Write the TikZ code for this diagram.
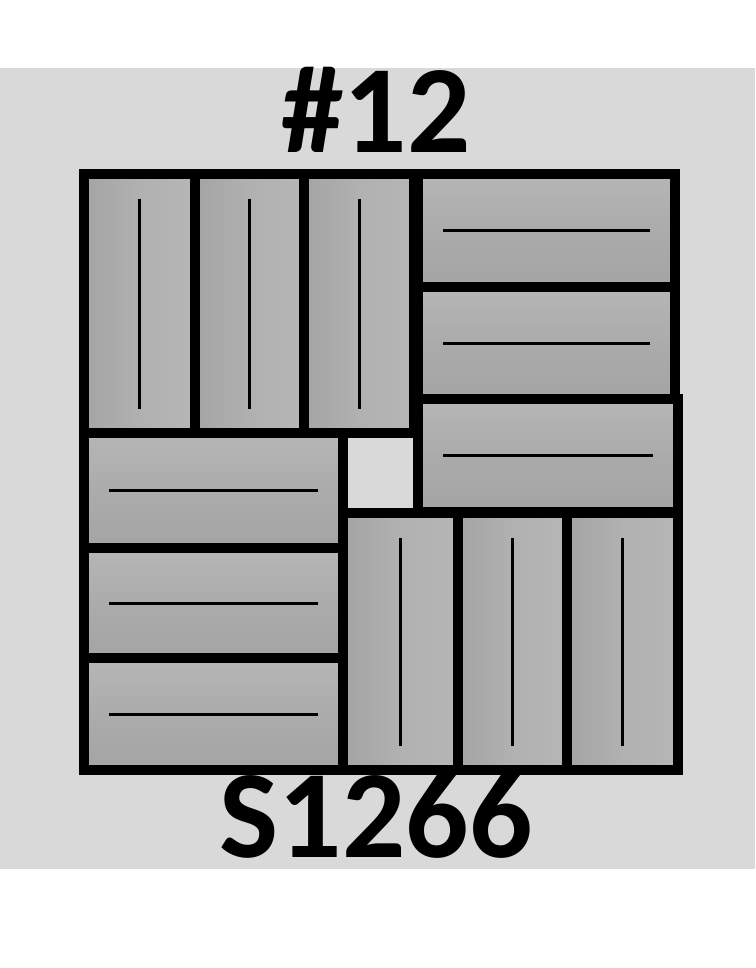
\documentclass[tikz,border=0pt]{standalone}
\usepackage{fontspec}
\setmainfont{Carlito}
\definecolor{bgc}{HTML}{D9D9D9}
\definecolor{woodA}{HTML}{B6B6B6}
\definecolor{woodB}{HTML}{A4A4A4}
\tikzset{
  hb/.style={draw=black, line width=10pt, top color=woodA, bottom color=woodB, middle color=woodB!60!woodA},
  vb/.style={draw=black, line width=10pt, left color=woodB, right color=woodA, middle color=woodA!70!woodB},
  grain/.style={draw=black, line width=3pt},
  title/.style={font=\bfseries\fontsize{125}{125}\selectfont, inner sep=0pt, anchor=base}
}
\newcommand\hboard[4]{%
  \path[hb] (#1,#2) rectangle (#3,#4);
  \draw[grain] ({#1+25},{(#2+#4)/2}) -- ({#3-25},{(#2+#4)/2});}
\newcommand\vboard[4]{%
  \path[vb] (#1,#2) rectangle (#3,#4);
  \draw[grain] ({(#1+#3)/2},{#2+25}) -- ({(#1+#3)/2},{#4-24});}
\begin{document}
\begin{tikzpicture}[x=1pt,y=-1pt]
\useasboundingbox (0,0) rectangle (755,968);
\fill[bgc] (0,68) rectangle (755,869);
% top-left vertical boards
\vboard{84}{174}{195}{433}
\vboard{195}{174}{304}{433}
\vboard{304}{174}{414}{433}
% top-right horizontal boards
\hboard{418}{174}{675}{287}
\hboard{418}{287}{675}{399}
\hboard{418}{399}{678}{512}
% bottom-left horizontal boards
\hboard{84}{433}{343}{548}
\hboard{84}{548}{343}{658}
\hboard{84}{658}{343}{770}
% bottom-right vertical boards
\vboard{343}{513}{458}{770}
\vboard{458}{513}{567}{770}
\vboard{567}{513}{678}{770}
% titles
\node[title] (top) at (376,153) {\#12};
\node[title] (bot) at (376,857) {S1266};
\end{tikzpicture}
\end{document}
